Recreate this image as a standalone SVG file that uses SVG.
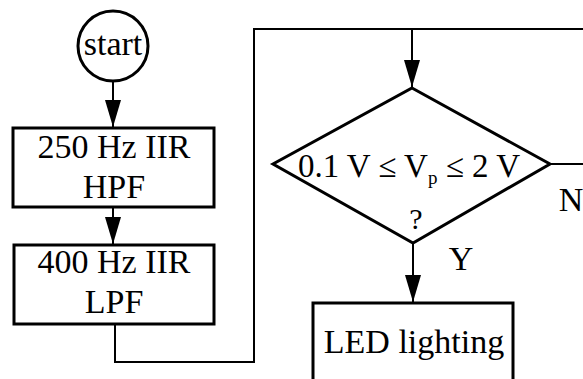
<svg xmlns="http://www.w3.org/2000/svg" width="583" height="379" viewBox="0 0 583 379">
<defs>
<style>
.shape{fill:#fff;stroke:#000;stroke-width:3}
.conn{fill:none;stroke:#000;stroke-width:2}
text{font-family:"Liberation Serif","Times New Roman",serif;fill:#000;text-anchor:middle}
.t{font-size:34px}
</style>
<marker id="arr" markerUnits="userSpaceOnUse" markerWidth="28" markerHeight="16" refX="27" refY="8" orient="auto" viewBox="0 0 28 16">
<path d="M0,0 L27,8 L0,16 Z" fill="#000"/>
</marker>
</defs>
<rect width="583" height="379" fill="#fff"/>
<g id="connectors">
<line class="conn" x1="113" y1="81" x2="113" y2="127" marker-end="url(#arr)"/>
<line class="conn" x1="113" y1="207" x2="113" y2="244" marker-end="url(#arr)"/>
<polyline class="conn" points="115,324 115,362 254,362 254,29 583,29"/>
<line class="conn" x1="412" y1="29" x2="412" y2="87" marker-end="url(#arr)"/>
<line class="conn" x1="550" y1="164" x2="583" y2="164"/>
<line class="conn" x1="413" y1="243" x2="413" y2="302" marker-end="url(#arr)"/>
<text class="t" x="571" y="211">N</text>
<text class="t" x="461" y="270">Y</text>
</g>
<g id="start">
<circle class="shape" cx="113" cy="46" r="35"/>
<text class="t" x="113" y="55">start</text>
</g>
<g id="hpf">
<rect class="shape" x="13" y="128" width="201" height="79"/>
<text class="t" x="114" y="158">250 Hz IIR</text>
<text class="t" x="114" y="198">HPF</text>
</g>
<g id="lpf">
<rect class="shape" x="14" y="245" width="200" height="79"/>
<text class="t" x="114" y="273">400 Hz IIR</text>
<text class="t" x="114" y="313">LPF</text>
</g>
<g id="decision">
<polygon class="shape" points="412,88 550,164 413,243 273,164"/>
<text class="t" x="409" y="177" style="font-size:33px">0.1 V ≤ V<tspan font-size="19" dy="7">p</tspan><tspan dy="-7"> ≤ 2 V</tspan></text>
<text x="416" y="229" style="font-size:30px">?</text>
</g>
<g id="led">
<rect class="shape" x="313" y="303" width="200" height="90"/>
<text class="t" x="414" y="353">LED lighting</text>
</g>
</svg>
